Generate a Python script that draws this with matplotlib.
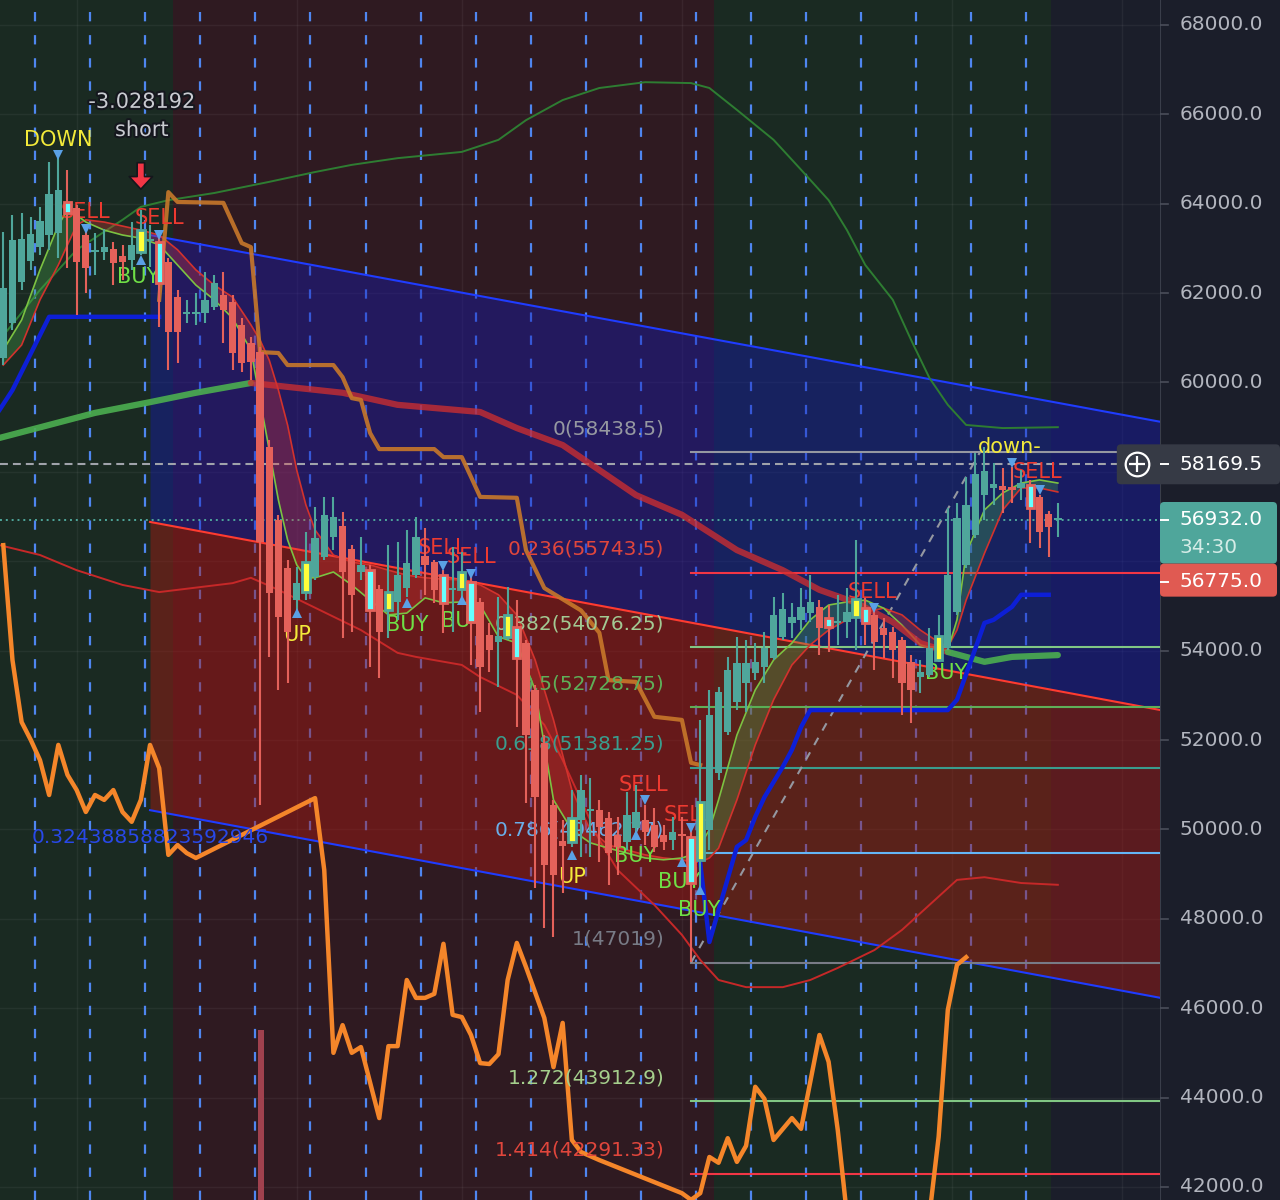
import numpy as np
import matplotlib
matplotlib.use('Agg')
import matplotlib.pyplot as plt
from matplotlib.patches import FancyBboxPatch
import matplotlib.patheffects as pe

# heikin-ashi 4h candles
opens = [60548, 61331, 62248, 62719, 63032, 63300, 63345, 64039, 63905, 63300,
         62920, 62920, 62988, 62831, 62741, 62920, 63167, 63144, 62696, 61913,
         61532, 61532, 61555, 61689, 61958, 61801, 61286, 60884, 60682, 58556,
         56923, 55849, 55133, 55312, 55647, 56095, 56542, 56789, 56274, 55759,
         55804, 55379, 54909, 55088, 55401, 55692, 56118, 55983, 55692, 55357,
         55379, 55535, 55088, 54350, 54193, 54305, 54528, 54171, 53119, 51933,
         50545, 49740, 49717, 50210, 50412, 50434, 50255, 49874, 49717, 50031,
         50210, 50098, 49874, 49762, 49896, 49829, 49315, 49986, 51262, 52179,
         52850, 53276, 53499, 53633, 53835, 54305, 54618, 54685, 54842, 54976,
         54730, 54618, 54640, 54752, 54954, 54797, 54506, 54417, 54238, 53745,
         53409, 53454, 53790, 54059, 54864, 55916, 56587, 57482, 57639, 57684,
         57661, 57639, 57706, 57437, 57057, 56923]
highs = [63367, 63748, 63793, 63703, 63927, 64934, 65023, 64755, 63972, 63412,
         63345, 63435, 63144, 63077, 63591, 63860, 63524, 63300, 62786, 62070,
         61846, 62003, 62472, 62405, 62472, 61958, 61443, 61018, 60794, 58713,
         57035, 56028, 55871, 56654, 57214, 57437, 57437, 57102, 56363, 56542,
         55916, 55468, 56363, 56430, 56699, 56990, 56744, 56028, 55804, 56318,
         56207, 55737, 55178, 54618, 55200, 55423, 55133, 54238, 53231, 52112,
         50657, 50210, 50881, 51217, 51150, 50657, 50389, 50277, 50836, 50993,
         50545, 50478, 50098, 50277, 50277, 50098, 52448, 53119, 53186, 53857,
         54305, 54238, 54171, 54417, 55200, 55290, 55066, 55401, 55692, 55133,
         55021, 55245, 55401, 56475, 55178, 54909, 54730, 54528, 54305, 53902,
         53790, 54506, 54797, 57192, 57304, 57885, 58422, 58556, 58199, 58087,
         58109, 58042, 57818, 57482, 57125, 57304]
lows = [60391, 61175, 62070, 62517, 62853, 62965, 62786, 62562, 61510, 62003,
        62405, 62741, 62181, 62293, 62517, 62853, 62584, 61241, 60280, 60436,
        61331, 61286, 61331, 61622, 60884, 60280, 60235, 60056, 50545, 53857,
        53119, 53276, 54909, 55133, 55580, 56028, 56252, 54283, 54417, 55580,
        53633, 53387, 54283, 54685, 55200, 55625, 55245, 55066, 54395, 54417,
        55200, 53678, 52626, 53521, 53186, 54238, 52291, 50590, 48688, 47793,
        47591, 48576, 49606, 49382, 49382, 49270, 48755, 48979, 49539, 49807,
        49650, 49494, 49539, 49539, 49382, 47032, 48643, 49539, 51105, 52112,
        52671, 52626, 53343, 53276, 53790, 54238, 54283, 54462, 54640, 53902,
        53969, 54126, 54283, 54014, 54126, 53566, 53835, 53387, 52559, 52381,
        53052, 53409, 53745, 54014, 54797, 55849, 56520, 56923, 57259, 57080,
        57304, 57371, 56408, 56296, 56095, 56542]
closes = [62114, 63189, 63211, 63322, 63614, 64217, 64307, 63793, 62696, 62562,
          62965, 63032, 62674, 62696, 63077, 63412, 63211, 62226, 61130, 61130,
          61577, 61577, 61846, 62226, 61622, 60660, 60436, 60458, 56430, 55290,
          54752, 54417, 55513, 55983, 56520, 57035, 56990, 55759, 55245, 55916,
          54909, 54417, 55312, 55692, 55961, 56542, 55916, 55357, 55066, 55401,
          55759, 54640, 53633, 54014, 54328, 54797, 53835, 52112, 50724, 49203,
          48979, 49628, 50255, 50881, 50456, 50053, 49472, 49606, 50322, 50389,
          49941, 49606, 49717, 49941, 49852, 48800, 50612, 52559, 53074, 53566,
          53723, 53723, 53745, 54059, 54797, 54931, 54752, 54976, 55088, 54506,
          54528, 54663, 54864, 55156, 54618, 54193, 54350, 54014, 53276, 53119,
          53521, 54059, 54328, 55692, 56968, 57259, 57952, 58020, 57728, 57594,
          57594, 57750, 57192, 56654, 56766, 56932]
buy_bars = [15, 33, 42, 50, 55, 62, 76, 93, 102]
sell_bars = [7, 17, 40, 48, 51, 56, 75, 90, 94, 112]

# colour-changing long moving average
ma_idx = [-0.4, 5, 10, 16, 21, 27, 37, 43, 52, 56, 61, 65, 69, 74, 80, 85, 89,
          93, 97, 100, 103, 107, 110, 115]
ma_val = [58760, 59050, 59320, 59560, 59770, 59990, 59770, 59500, 59340, 58980,
          58600, 58040, 57480, 57040, 56250, 55800, 55360, 55070, 54640, 54170,
          53970, 53750, 53860, 53900]

# trailing stop (blue)
stop_idx_l = [-0.4, 1, 5, 17]
stop_val_l = [59390, 59830, 61470, 61470]
stop_idx_r = [76, 77, 80, 81, 82, 83, 85, 86, 87, 88, 103, 104, 107, 108, 110, 111, 114]
stop_val_r = [49250, 47480, 49610, 49760, 50280, 50720, 51400, 51780, 52290, 52670,
              52670, 52900, 54620, 54690, 54980, 55250, 55250]

# step line (brown-orange)
step_idx = [17, 18, 19, 24, 26, 27, 28, 30, 31, 36, 37, 38, 39, 40, 41, 47, 48, 50,
            51, 52, 56, 57, 59, 63, 65, 66, 69, 71, 74, 75, 76]
step_val = [61850, 64260, 64040, 64020, 63120, 63030, 60680, 60660, 60390, 60390,
            60120, 59650, 59610, 58870, 58510, 58510, 58330, 58330, 57890, 57440,
            57420, 56250, 55400, 54900, 54400, 53340, 53300, 52520, 52450, 51490, 51440]

# oscillator (bright orange)
osc_idx = [0, 1, 2, 3, 4, 5, 6, 7, 8, 9, 10, 11, 12, 13, 14, 15, 16, 17, 18, 19, 20, 21,
           34, 35, 36, 37, 38, 39, 41, 42, 43, 44, 45, 46, 47, 48, 49, 50, 51, 52, 53,
           54, 55, 56, 57, 59, 60, 61, 62, 63, 65, 74, 75, 76, 77, 78, 79, 80, 81, 82,
           83, 84, 86, 87, 89, 90, 91, 92, 101, 102, 103, 104, 105]
osc_val = [56360, 53790, 52400, 52000, 51550, 50770, 51890, 51220, 50880, 50390,
           50770, 50660, 50880, 50390, 50170, 50660, 51890, 51370, 49430, 49650,
           49470, 49360, 50700, 49090, 45000, 45620, 45000, 45130, 43540, 45150,
           45150, 46630, 46230, 46230, 46320, 47440, 45850, 45800, 45400, 44770,
           44750, 44970, 46630, 47460, 46920, 45780, 44680, 45670, 43050, 42780,
           42600, 41860, 41710, 41860, 42670, 42540, 43090, 42560, 42920, 44240,
           43970, 43050, 43540, 43300, 45400, 44800, 43270, 41370, 41370, 43120,
           45960, 46970, 47140]

# ema ribbon
rib_idx = [0, 2, 4, 6, 7, 8, 9, 11, 13, 15, 17, 19, 21, 23, 25, 27, 28, 29, 30, 31,
           32, 33, 34, 36, 38, 40, 42, 44, 46, 48, 50, 52, 54, 56, 58, 60, 62, 64,
           66, 68, 70, 72, 74, 75, 76, 77, 78, 80, 82, 84, 86, 88, 90, 92, 94, 96,
           98, 100, 102, 103, 104, 105, 107, 109, 111, 113, 115]
rib_fast = [60730, 61400, 62520, 63520, 63860, 63750, 63590, 63410, 63300, 63230,
            63080, 62630, 62180, 61850, 61440, 60730, 59610, 58490, 57370, 56480,
            55920, 55630, 55630, 55760, 55470, 55130, 54800, 54840, 55180, 55070,
            55090, 55020, 54310, 54170, 53120, 50660, 49990, 49700, 49580, 49470,
            49360, 49320, 49360, 49430, 49650, 49990, 50660, 52110, 53120, 53790,
            54170, 54690, 55020, 55090, 55130, 54950, 54570, 54130, 54010, 54010,
            54690, 56180, 57150, 57530, 57750, 57820, 57750]
rib_slow = [60390, 60840, 61850, 62630, 63080, 63520, 63640, 63590, 63500, 63410,
            63300, 62970, 62520, 62180, 61910, 61290, 60950, 60500, 59830, 59050,
            58040, 57260, 56700, 56140, 55980, 55920, 55800, 55690, 55630, 55600,
            55580, 55470, 55250, 54800, 53790, 52450, 50880, 49990, 49650, 49540,
            49430, 49360, 49320, 49270, 49270, 49360, 49580, 50660, 51890, 52900,
            53680, 54130, 54460, 54690, 54860, 54950, 54800, 54460, 54190, 54080,
            54460, 55130, 56180, 57150, 57640, 57640, 57550]

# envelope bands
up_idx = [-0.4, 4, 8, 13, 15, 18, 23, 29, 34, 38, 43, 50, 54, 57, 61, 65, 70, 75,
          77, 80, 84, 87, 90, 92, 94, 97, 99, 101, 103, 105, 109, 115]
up_val = [60950, 62070, 62970, 63640, 63930, 64080, 64240, 64490, 64710, 64870,
          65020, 65160, 65430, 65870, 66320, 66590, 66720, 66700, 66590, 66100,
          65430, 64760, 64080, 63410, 62630, 61850, 60950, 60100, 59500, 59050,
          58980, 59000]
lo_idx = [-0.4, 4, 8, 13, 17, 25, 27, 30, 35, 39, 43, 45, 50, 52, 56, 59, 61, 63, 65,
          67, 71, 74, 76, 78, 81, 85, 88, 91, 95, 98, 101, 104, 107, 111, 115]
lo_val = [56360, 56140, 55800, 55470, 55310, 55510, 55630, 55360, 54860, 54460,
          53950, 53860, 53680, 53410, 53010, 52340, 51550, 50660, 49760, 49090,
          48310, 47640, 47080, 46630, 46470, 46470, 46630, 46900, 47300, 47750,
          48310, 48870, 48930, 48800, 48760]

# regression channel
chan_idx = [16, 126.2]
chan_top = [63300, 59120]
chan_mid = [56880, 52670]
chan_bot = [50430, 46230]

# fibonacci retracement
fib_start = 75
fib_anchor_idx = [75, 106.5]
fib_anchor_val = [47019, 58438.5]
fib_prices = [58438.5, 55743.5, 54076.25, 52728.75, 51381.25, 49462.77, 47019,
              43912.9, 42291.33]
fib_labels = ['0(58438.5)', '0.236(55743.5)', '0.382(54076.25)', '0.5(52728.75)',
              '0.618(51381.25)', '0.786(49462.77)', '1(47019)', '1.272(43912.9)',
              '1.414(42291.33)']
fib_text_col = ['#9598a1', '#e0463c', '#a3c993', '#5fae58', '#3a9d8e', '#6aaee8',
                '#787b86', '#a5cf8c', '#e0463c']
fib_line_col = ['#9598a1', '#f23645', '#81c784', '#5fae58', '#3a9d8e', '#64b5f6',
                '#787b86', '#81c784', '#f23645']

# signal labels
sig_text = ['DOWN', 'SELL', 'SELL', 'BUY', 'UP', 'BUY', 'SELL', 'BUY', 'SELL', 'UP',
            'SELL', 'BUY', 'SELL', 'BUY', 'BUY', 'SELL', 'BUY', 'down-', 'SELL']
sig_idx = [6, 9, 17, 14.7, 32, 44.1, 47.9, 50, 51, 62, 69.8, 68.9, 74.7, 73.7, 75.9,
           94.8, 102.8, 109.8, 112.8]
sig_price = [65430, 63810, 63680, 62360, 54350, 54570, 56300, 54660, 56100, 48930,
             50990, 49400, 50320, 48820, 48200, 55310, 53500, 58560, 58000]

tri_idx = [6, 9, 15, 17, 32, 44, 48, 50, 51, 62, 69, 70, 74, 75, 76, 95, 110, 113]
tri_price = [65090, 63440, 62740, 63300, 54840, 55070, 55890, 55130, 55710, 49430,
             49870, 50660, 49270, 50030, 48640, 54950, 58200, 57590]
tri_dir = ['v', 'v', '^', 'v', '^', '^', 'v', '^', 'v', '^', '^', 'v', '^', 'v', '^',
           'v', 'v', 'v']

vol_idx = [28.1]
vol_top = [45510]

last_price = 56932.0
cross_price = 58169.5
# 56000 and 58000 sit under the price tags
ticks = [42000, 44000, 46000, 48000, 50000, 52000, 54000, 60000, 62000, 64000,
         66000, 68000]
grid_levels = list(range(42000, 68001, 2000))

YMIN, YMAX = 41707, 68559
UPC, DNC = '#4fa69b', '#e4615a'
YEL, GRN, RED = '#f3ea3a', '#6fe046', '#ee3a30'

fig = plt.figure(figsize=(12.8, 12), dpi=100, facecolor='#1b1e2a')
ax = fig.add_axes([0, 0, 1160 / 1280, 1])
ax.set_facecolor('#1b1e2a')
ax.set_xlim(-0.36, 126.14)
ax.set_ylim(YMIN, YMAX)
ax.set_xticks([])
ax.set_yticks([])
for s in ax.spines.values():
    s.set_visible(False)

# session backgrounds
ax.axvspan(-0.4, 18.5, color='#1a2a22', zorder=0, lw=0)
ax.axvspan(18.5, 77.5, color='#2f1a21', zorder=0, lw=0)
ax.axvspan(77.5, 114.3, color='#1a2a22', zorder=0, lw=0)

for t in grid_levels:
    ax.axhline(t, color='white', alpha=0.05, lw=1, zorder=0.5)
for g in [8, 32, 50, 74, 103.5, 122]:
    ax.axvline(g, color='white', alpha=0.05, lw=1, zorder=0.5)

for k in range(19):
    ax.axvline(3.5 + 6 * k, color='#4f86f0', lw=1.6, ls=(0, (4.2, 6.2)), zorder=1)

# channel
ax.fill_between(chan_idx, chan_top, chan_mid, color='#1418b4', alpha=0.42, lw=0, zorder=2)
ax.fill_between(chan_idx, chan_mid, chan_bot, color='#aa1912', alpha=0.45, lw=0, zorder=2)
ax.plot(chan_idx, chan_top, color='#1f3cff', lw=1.5, zorder=3)
ax.plot(chan_idx, chan_mid, color='#ff3b30', lw=1.5, zorder=3)
ax.plot(chan_idx, chan_bot, color='#1f3cff', lw=1.5, zorder=3)

ax.bar(vol_idx, [v - YMIN + 500 for v in vol_top], bottom=YMIN - 500, width=0.6,
       color='#a0414e', zorder=2.5)

# fib
for p, lab, tc, lc in zip(fib_prices, fib_labels, fib_text_col, fib_line_col):
    ax.plot([fib_start, 127], [p, p], color=lc, lw=1.5, zorder=3)
    ax.annotate(lab, xy=(72.1, p), xytext=(0, 17), textcoords='offset points',
                ha='right', va='center', color=tc, fontsize=14.5, zorder=5)
ax.plot(fib_anchor_idx, fib_anchor_val, color='#9598a1', lw=1.5, ls=(0, (4, 4)), zorder=3)

ax.axhline(cross_price, color='#a0a3ab', lw=1.5, ls=(0, (3.8, 2.4)), zorder=3.2)
ax.axhline(last_price, color=UPC, lw=1.4, ls=(0, (1, 2)), zorder=3.2)

# bands and ribbon
ax.plot(up_idx, up_val, color='#2e7d32', lw=1.4, zorder=4)
ax.plot(lo_idx, lo_val, color='#c62828', lw=1.4, zorder=4)
rf, rs = np.array(rib_fast), np.array(rib_slow)
ax.fill_between(rib_idx, rf, rs, where=rf >= rs, interpolate=True, color='#4caf50',
                alpha=0.3, lw=0, zorder=4)
ax.fill_between(rib_idx, rf, rs, where=rf < rs, interpolate=True, color='#e53935',
                alpha=0.3, lw=0, zorder=4)
ax.plot(rib_idx, rib_slow, color='#d2322d', lw=1.2, zorder=4.2)
ax.plot(rib_idx, rib_fast, color='#7cc242', lw=1.2, zorder=4.2)

# long MA with colour change
ma_i = np.array(ma_idx)
ma_v = np.array(ma_val)
m1 = ma_i <= 27
m2 = (ma_i >= 27) & (ma_i <= 103)
m3 = ma_i >= 103
ax.plot(ma_i[m1], ma_v[m1], color='#4caf50', lw=4.5, alpha=0.9, zorder=4.5,
        solid_capstyle='round')
ax.plot(ma_i[m2], ma_v[m2], color='#d32f2f', lw=4.5, alpha=0.75, zorder=4.5,
        solid_capstyle='round')
ax.plot(ma_i[m3], ma_v[m3], color='#4caf50', lw=4.5, alpha=0.9, zorder=4.5,
        solid_capstyle='round')

ax.plot(stop_idx_l, stop_val_l, color='#0d1fd6', lw=3.2, zorder=4.6)
ax.plot(stop_idx_r, stop_val_r, color='#0d1fd6', lw=3.2, zorder=4.6)
ax.plot(step_idx, step_val, color='#c8782a', lw=3, alpha=0.9, zorder=4.7)
ax.plot(osc_idx, osc_val, color='#f5862a', lw=3.2, zorder=4.7)

# signal text (behind candles, like the original)
sig_col = {'DOWN': YEL, 'UP': YEL, 'down-': YEL, 'BUY': GRN, 'SELL': RED}
for t, i, p in zip(sig_text, sig_idx, sig_price):
    ax.text(i, p, t, color=sig_col[t], fontsize=15, ha='center', va='center', zorder=5)

ax.text(16, 49810, '0.32438858823592946', color='#2848e8', fontsize=14.5,
        ha='center', va='center', zorder=5)
stroke = [pe.withStroke(linewidth=3, foreground='#15171e')]
ax.text(15.1, 66280, '-3.028192', color='#c9cbd1', fontsize=15, ha='center',
        va='center', zorder=8, path_effects=stroke)
ax.text(15.1, 65650, 'short', color='#c9cbd1', fontsize=15, ha='center',
        va='center', zorder=8, path_effects=stroke)
ax.annotate('', xy=(15, 64263), xytext=(15, 64980), zorder=8,
            arrowprops=dict(arrowstyle='simple,head_width=1.2,head_length=0.65,tail_width=0.38',
                            mutation_scale=14, fc='#f23645', ec='#14161c', lw=1.2))

for i, p, d in zip(tri_idx, tri_price, tri_dir):
    ax.plot(i, p, marker=d, color='#5aa0e6', ms=6.5, mew=0, zorder=7)

# candles
x = np.arange(len(opens))
o, h, l, c = map(np.array, (opens, highs, lows, closes))
face, edge, lwid, wick = [], [], [], []
for i in x:
    col = UPC if c[i] >= o[i] else DNC
    if i in buy_bars:
        face.append('#ffff3a'); edge.append(UPC); lwid.append(2); wick.append(UPC)
    elif i in sell_bars:
        face.append('#66ffff'); edge.append(DNC); lwid.append(2); wick.append(DNC)
    else:
        face.append(col); edge.append(col); lwid.append(0); wick.append(col)
ax.vlines(x, l, h, colors=wick, lw=1.5, zorder=6)
ax.bar(x, np.maximum(np.abs(c - o), 40), bottom=np.minimum(o, c), width=0.8,
       color=face, edgecolor=edge, linewidth=lwid, zorder=6.5)

# right price scale
axr = fig.add_axes([1160 / 1280, 0, 120 / 1280, 1])
axr.set_facecolor('#1b1e2a')
axr.set_xlim(0, 1)
axr.set_ylim(YMIN, YMAX)
axr.set_xticks([])
axr.set_yticks([])
for s in axr.spines.values():
    s.set_visible(False)
axr.axvline(0, color='#3a3e4a', lw=1.5)
for t in ticks:
    axr.plot([0, 0.07], [t, t], color='#4a4e5a', lw=1.2)
    axr.text(0.165, t, f'{t:.1f}', color='#b2b5be', fontsize=14.5, ha='left', va='center')

asp = 22.377 * 120
def tag(x0, x1, y0, y1, col):
    axr.add_patch(FancyBboxPatch((x0, y0), x1 - x0, y1 - y0,
                                 boxstyle='round,pad=0,rounding_size=0.035',
                                 mutation_aspect=asp, fc=col, ec='none',
                                 clip_on=False, zorder=5))

tag(-0.36, 1.0, cross_price - 447, cross_price + 447, '#363a45')
axr.plot(-0.19, cross_price, marker='o', ms=17, mfc='none', mec='white', mew=1.6,
         clip_on=False, zorder=6)
axr.plot(-0.19, cross_price, marker='+', ms=11, mec='white', mew=1.6,
         clip_on=False, zorder=6)
axr.plot([0, 0.07], [cross_price] * 2, color='white', lw=1.4, zorder=6)
axr.text(0.165, cross_price, f'{cross_price:.1f}', color='white', fontsize=14.5,
         ha='left', va='center', zorder=6)

tag(0.0, 0.975, 55947, 57326, UPC)
axr.plot([0, 0.07], [last_price] * 2, color='white', lw=1.4, zorder=6)
axr.text(0.165, last_price, f'{last_price:.1f}', color='white', fontsize=14.5,
         ha='left', va='center', zorder=6)
axr.text(0.165, 56300, '34:30', color='#d5ece7', fontsize=14.5, ha='left',
         va='center', zorder=6)

tag(0.0, 0.975, 55208, 55947, '#e05a52')
axr.plot([0, 0.07], [55540] * 2, color='white', lw=1.4, zorder=6)
axr.text(0.165, 55540, '56775.0', color='white', fontsize=14.5, ha='left',
         va='center', zorder=6)

fig.savefig('out.png', dpi=100, facecolor=fig.get_facecolor())
